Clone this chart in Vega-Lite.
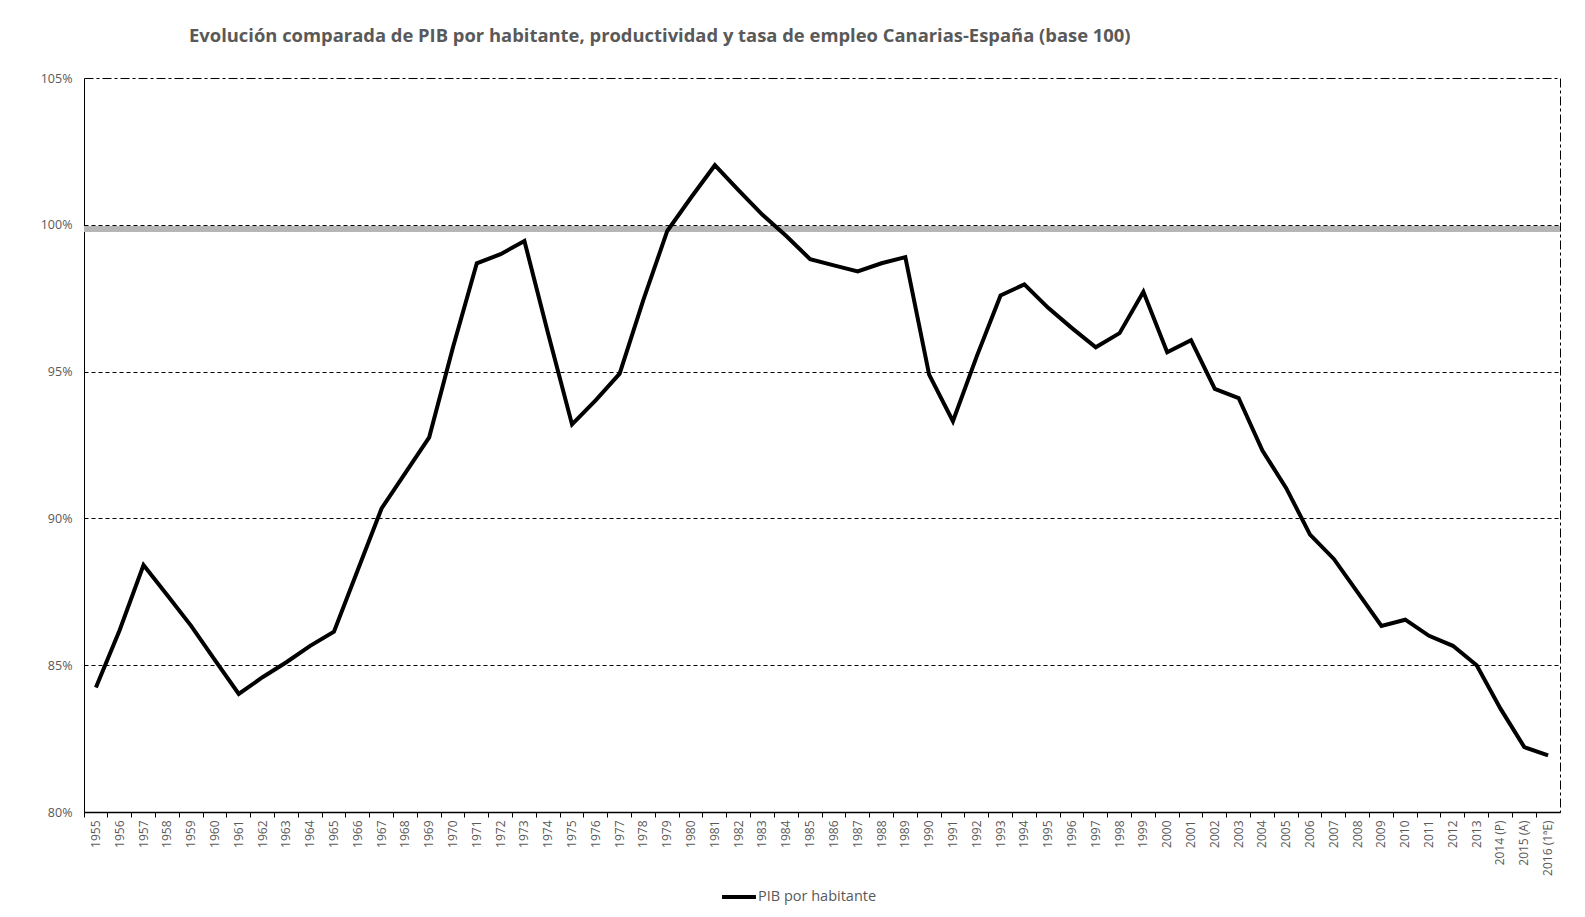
{
  "$schema": "https://vega.github.io/schema/vega-lite/v6.json",
  "autosize": {"type": "none"},
  "width": 1476,
  "height": 734,
  "padding": {"left": 84, "top": 78, "right": 25, "bottom": 105},
  "background": "white",
  "title": {
    "text": "Evolución comparada de PIB por habitante, productividad y tasa de empleo Canarias-España (base 100)",
    "font": "Open Sans",
    "fontSize": 18.4,
    "fontWeight": "bold",
    "color": "#595959",
    "anchor": "start",
    "frame": "group",
    "dx": 105,
    "offset": 27
  },
  "config": {
    "view": {"stroke": "black", "strokeWidth": 1, "strokeDash": [9, 3, 3, 3]},
    "axis": {"labelFont": "Open Sans", "labelColor": "#595959", "labelFontSize": 12}
  },
  "data": {
    "values": [
      {"year": "1955", "pib": 84.24},
      {"year": "1956", "pib": 86.2},
      {"year": "1957", "pib": 88.41},
      {"year": "1958", "pib": 87.38},
      {"year": "1959", "pib": 86.34},
      {"year": "1960", "pib": 85.17},
      {"year": "1961", "pib": 84.02},
      {"year": "1962", "pib": 84.59},
      {"year": "1963", "pib": 85.1},
      {"year": "1964", "pib": 85.66},
      {"year": "1965", "pib": 86.14},
      {"year": "1966", "pib": 88.24},
      {"year": "1967", "pib": 90.34},
      {"year": "1968", "pib": 91.55},
      {"year": "1969", "pib": 92.76},
      {"year": "1970", "pib": 95.83},
      {"year": "1971", "pib": 98.69},
      {"year": "1972", "pib": 99.0},
      {"year": "1973", "pib": 99.45},
      {"year": "1974", "pib": 96.28},
      {"year": "1975", "pib": 93.2},
      {"year": "1976", "pib": 94.03},
      {"year": "1977", "pib": 94.93},
      {"year": "1978", "pib": 97.45},
      {"year": "1979", "pib": 99.79},
      {"year": "1980", "pib": 100.93},
      {"year": "1981", "pib": 102.03},
      {"year": "1982", "pib": 101.17},
      {"year": "1983", "pib": 100.34},
      {"year": "1984", "pib": 99.62},
      {"year": "1985", "pib": 98.83},
      {"year": "1986", "pib": 98.62},
      {"year": "1987", "pib": 98.41},
      {"year": "1988", "pib": 98.69},
      {"year": "1989", "pib": 98.9},
      {"year": "1990", "pib": 94.9},
      {"year": "1991", "pib": 93.31},
      {"year": "1992", "pib": 95.52},
      {"year": "1993", "pib": 97.59},
      {"year": "1994", "pib": 97.97},
      {"year": "1995", "pib": 97.17},
      {"year": "1996", "pib": 96.48},
      {"year": "1997", "pib": 95.83},
      {"year": "1998", "pib": 96.31},
      {"year": "1999", "pib": 97.72},
      {"year": "2000", "pib": 95.66},
      {"year": "2001", "pib": 96.07},
      {"year": "2002", "pib": 94.41},
      {"year": "2003", "pib": 94.1},
      {"year": "2004", "pib": 92.31},
      {"year": "2005", "pib": 91.03},
      {"year": "2006", "pib": 89.45},
      {"year": "2007", "pib": 88.62},
      {"year": "2008", "pib": 87.48},
      {"year": "2009", "pib": 86.34},
      {"year": "2010", "pib": 86.55},
      {"year": "2011", "pib": 86.0},
      {"year": "2012", "pib": 85.66},
      {"year": "2013", "pib": 85.0},
      {"year": "2014 (P)", "pib": 83.52},
      {"year": "2015 (A)", "pib": 82.21},
      {"year": "2016 (1ªE)", "pib": 81.93}
    ]
  },
  "layer": [
    {
      "mark": {"type": "rule", "color": "#b5b5b5", "strokeWidth": 5},
      "encoding": {
        "y": {"datum": 99.86, "type": "quantitative"}
      }
    },
    {
      "mark": {"type": "line", "color": "black", "strokeWidth": 4},
      "encoding": {
        "x": {
          "field": "year",
          "type": "ordinal",
          "sort": null,
          "scale": {"type": "band", "paddingInner": 0, "paddingOuter": 0},
          "axis": {
            "title": null,
            "labelAngle": 270,
            "labelAlign": "right",
            "labelBaseline": "middle",
            "labelPadding": 3,
            "bandPosition": 0,
            "tickSize": 5,
            "tickColor": "black",
            "domainColor": "black",
            "domainWidth": 1.5,
            "grid": false
          }
        },
        "y": {
          "field": "pib",
          "type": "quantitative",
          "scale": {"domain": [80, 105], "nice": false, "zero": false},
          "axis": {
            "title": null,
            "values": [80, 85, 90, 95, 100, 105],
            "labelExpr": "datum.value + '%'",
            "ticks": false,
            "labelFontSize": 12.5,
            "labelPadding": 12,
            "domainColor": "black",
            "domainWidth": 1,
            "grid": true,
            "gridColor": "black",
            "gridDash": [4, 3],
            "gridWidth": 1,
            "gridOpacity": {"condition": {"test": "datum.value == 105 || datum.value == 80", "value": 0}, "value": 1}
          }
        },
        "stroke": {
          "datum": "PIB por habitante",
          "type": "nominal",
          "scale": {"range": ["black"]},
          "legend": {
            "title": null,
            "orient": "none",
            "legendX": 636,
            "legendY": 800,
            "symbolType": "stroke",
            "symbolSize": 1150,
            "symbolStrokeWidth": 4,
            "labelFont": "Open Sans",
            "labelFontSize": 14.5,
            "labelColor": "#595959",
            "labelOffset": 0
          }
        }
      }
    }
  ]
}
